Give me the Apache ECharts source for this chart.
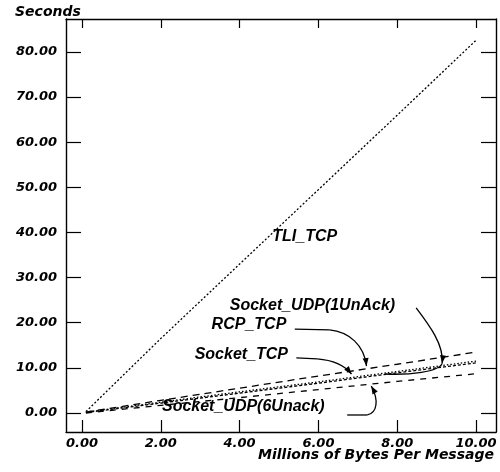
<!DOCTYPE html>
<html>
<head>
  <meta charset="UTF-8">
  <title>tli-tcp-chart</title>
  <style>
    html, body { margin: 0; padding: 0; background: #fff; }
    #chart { width: 500px; height: 472px; }
  </style>
</head>
<body>
<div id="chart"></div>
<script src="https://cdn.jsdelivr.net/npm/echarts@6/dist/echarts.min.js"></script>
<script>
  // values
  const mbytes = [0.1, 2, 4, 6, 8, 10];
  const tliTcp = [0.3, 16.5, 33.0, 49.5, 66.0, 82.6];
  const rcpTcp = [0.2, 2.8, 5.5, 8.2, 10.8, 13.5];
  const socketTcp = [0.2, 2.4, 4.7, 6.9, 9.2, 11.5];
  const udp1Unack = [0.1, 2.2, 4.4, 6.6, 8.9, 11.1];
  const udp6Unack = [0.0, 1.7, 3.4, 5.2, 7.0, 8.7];
  const xTicks = [0, 2, 4, 6, 8, 10];
  const yTicks = [0, 10, 20, 30, 40, 50, 60, 70, 80];

  const FONT = '"DejaVu Sans", sans-serif';
  const NOTE_FONT = 'italic bold 16px "Liberation Sans", sans-serif';
  const pairs = (ys) => mbytes.map((x, i) => [x, ys[i]]);

  const chart = echarts.init(document.getElementById('chart'));

  const labelStyle = {
    color: '#000', fontFamily: FONT, fontStyle: 'italic', fontWeight: 'bold', fontSize: 13
  };
  const frame = {show: true, onZero: false, lineStyle: {color: '#000', width: 1.4}};

  function xAxis(pos, len, labels) {
    return {
      type: 'value', position: pos, min: -0.405, max: 10.506,
      axisLine: frame, splitLine: {show: false},
      axisTick: {show: true, inside: true, length: len, customValues: xTicks, lineStyle: {color: '#000', width: 1.2}},
      axisLabel: Object.assign({show: labels, margin: 5, customValues: xTicks, formatter: v => v.toFixed(2)}, labelStyle)
    };
  }

  function yAxis(pos, labels) {
    return {
      type: 'value', position: pos, min: -4.21, max: 87.31,
      axisLine: frame, splitLine: {show: false},
      axisTick: {show: true, inside: true, length: 15, customValues: yTicks, lineStyle: {color: '#000', width: 1.2}},
      axisLabel: Object.assign({show: labels, margin: 9, customValues: yTicks, formatter: v => v.toFixed(2)}, labelStyle)
    };
  }

  function line(name, ys, dash) {
    return {
      name: name, type: 'line', data: pairs(ys), symbol: 'none', smooth: false,
      lineStyle: {color: '#000', width: 1.3, type: dash}
    };
  }

  chart.setOption({
    animation: false,
    grid: {left: 66, right: 4, top: 19, bottom: 40, containLabel: false, outerBoundsMode: 'none'},
    xAxis: [xAxis('bottom', 12, true), xAxis('top', 9, false)],
    yAxis: [yAxis('left', true), yAxis('right', false)],
    series: [
      line('TLI_TCP', tliTcp, [2, 2]),
      line('RCP_TCP', rcpTcp, [7, 5]),
      line('Socket_TCP', socketTcp, [1.5, 2]),
      line('Socket_UDP(1UnAck)', udp1Unack, [3, 2]),
      line('Socket_UDP(6Unack)', udp6Unack, [6, 6])
    ]
  });

  // annotations, placed in data units
  const notes = [
    {text: 'TLI_TCP', at: [4.83, 39.0]},
    {text: 'Socket_UDP(1UnAck)', at: [3.75, 23.9]},
    {text: 'RCP_TCP', at: [3.29, 19.5]},
    {text: 'Socket_TCP', at: [2.86, 12.85]},
    {text: 'Socket_UDP(6Unack)', at: [2.03, 1.33]}
  ];
  // each arrow: start point, then segments [end] or [cp1, cp2, end]
  const arrows = [
    {start: [5.40, 18.6], segs: [[[6.28, 18.4]], [[6.78, 17.95], [7.16, 15.07], [7.22, 10.4]]]},
    {start: [5.44, 12.2], segs: [[[5.97, 12.0]], [[6.41, 11.7], [6.66, 10.6], [6.84, 8.64]]]},
    {start: [8.48, 23.3], segs: [[[8.81, 19.5], [9.19, 15.1], [9.14, 11.0]]], tail: [[9.06, 9.1], [8.30, 8.4], [7.70, 8.64]]},
    {start: [6.73, -0.44], segs: [[[7.24, -0.44]], [[7.49, 0], [7.54, 2.88], [7.34, 5.98]]]}
  ];

  const px = (p) => chart.convertToPixel('grid', p);

  function head(from, to) {
    let dx = to[0] - from[0], dy = to[1] - from[1];
    let l = Math.sqrt(dx * dx + dy * dy) || 1;
    dx /= l; dy /= l;
    let bx = to[0] - dx * 8, by = to[1] - dy * 8;
    return {
      type: 'polygon', silent: true,
      shape: {points: [to, [bx - dy * 3, by + dx * 3], [bx + dy * 3, by - dx * 3]]},
      style: {fill: '#000'}
    };
  }

  function curve(a, c1, c2, e) {
    return {
      type: 'bezierCurve', silent: true,
      shape: {x1: a[0], y1: a[1], cpx1: c1[0], cpy1: c1[1], cpx2: c2[0], cpy2: c2[1], x2: e[0], y2: e[1]},
      style: {stroke: '#000', lineWidth: 1.3, fill: null}
    };
  }

  const graphic = [];
  notes.forEach(n => {
    let p = px(n.at);
    graphic.push({
      type: 'text', x: p[0], y: p[1], silent: true,
      style: {text: n.text, font: NOTE_FONT, fill: '#000', align: 'left', verticalAlign: 'middle'}
    });
  });
  arrows.forEach(a => {
    let cur = px(a.start);
    let prev = cur;
    a.segs.forEach(s => {
      if (s.length === 1) {
        let e = px(s[0]);
        graphic.push({type: 'line', silent: true, shape: {x1: cur[0], y1: cur[1], x2: e[0], y2: e[1]}, style: {stroke: '#000', lineWidth: 1.3}});
        prev = cur; cur = e;
      } else {
        let c1 = px(s[0]), c2 = px(s[1]), e = px(s[2]);
        graphic.push(curve(cur, c1, c2, e));
        prev = c2; cur = e;
      }
    });
    graphic.push(head(prev, cur));
    if (a.tail) {
      graphic.push(curve(cur, px(a.tail[0]), px(a.tail[1]), px(a.tail[2])));
    }
  });
  graphic.push({
    type: 'text', x: 15, y: 12, silent: true,
    style: {text: 'Seconds', font: 'italic bold 14px ' + FONT, fill: '#000', align: 'left', verticalAlign: 'middle'}
  });
  graphic.push({
    type: 'text', x: 494, y: 455, silent: true,
    style: {text: 'Millions of Bytes Per Message', font: 'italic bold 14px ' + FONT, fill: '#000', align: 'right', verticalAlign: 'middle'}
  });
  chart.setOption({graphic: graphic});
</script>
</body>
</html>
